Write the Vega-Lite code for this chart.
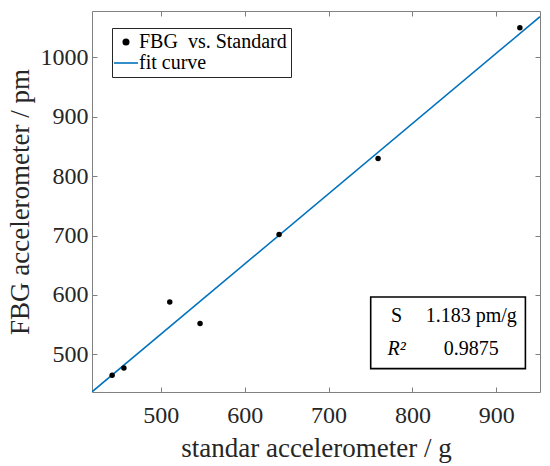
{
  "$schema": "https://vega.github.io/schema/vega-lite/v6.json",
  "width": 448,
  "height": 381,
  "autosize": {"type": "none"},
  "padding": {"left": 92, "top": 11, "right": 10, "bottom": 74},
  "background": "white",
  "config": {
    "font": "Liberation Serif",
    "view": {"stroke": null},
    "style": {
      "guide-label": {"font": "Liberation Serif"},
      "guide-title": {"font": "Liberation Serif"}
    },
    "legend": {"labelFont": "Liberation Serif"},
    "axis": {
      "domainColor": "#808080",
      "tickColor": "#808080",
      "tickSize": -5,
      "grid": false,
      "labelFont": "Liberation Serif",
      "labelFontSize": 24,
      "labelColor": "#262626",
      "titleFont": "Liberation Serif",
      "titleFontSize": 27,
      "titleFontWeight": "normal",
      "titleColor": "#262626"
    }
  },
  "datasets": {
    "measured": [
      {"standard": 442, "fbg": 464.6},
      {"standard": 456, "fbg": 476.9},
      {"standard": 510.7, "fbg": 588},
      {"standard": 546.8, "fbg": 551.7},
      {"standard": 641, "fbg": 701.7},
      {"standard": 759, "fbg": 829.8},
      {"standard": 928, "fbg": 1049.9}
    ],
    "fit": [
      {"standard": 418, "fbg": 436.7},
      {"standard": 952, "fbg": 1068.4}
    ],
    "stats": [
      {"name": "S", "value": "1.183 pm/g"},
      {"name": "R²", "value": "0.9875"}
    ]
  },
  "layer": [
    {
      "data": {"name": "fit"},
      "mark": {"type": "line", "clip": true, "strokeWidth": 1.6},
      "encoding": {
        "x": {
          "field": "standard", "type": "quantitative",
          "scale": {"domain": [418, 952], "nice": false, "zero": false},
          "axis": {"orient": "top", "values": [500, 600, 700, 800, 900], "labels": false, "title": null}
        },
        "y": {
          "field": "fbg", "type": "quantitative",
          "scale": {"domain": [436.5, 1078], "nice": false, "zero": false},
          "axis": {"orient": "right", "values": [500, 600, 700, 800, 900, 1000], "labels": false, "title": null}
        },
        "color": {
          "datum": "fit curve",
          "scale": {"domain": ["FBG\u00a0 vs. Standard", "fit curve"], "range": ["black", "#0072BD"]},
          "legend": {
            "title": null,
            "orient": "none",
            "legendX": 20,
            "legendY": 17,
            "strokeColor": "#262626",
            "fillColor": "white",
            "padding": 4,
            "symbolType": "stroke",
            "symbolSize": 576,
            "symbolStrokeWidth": 1.6,
            "labelFont": "Liberation Serif",
            "labelFontSize": 20,
            "labelColor": "black",
            "labelOffset": 3,
            "rowPadding": 1,
            "encode": {
              "labels": {"update": {"font": {"value": "Liberation Serif"}}},
              "symbols": {
                "update": {
                  "shape": {"signal": "datum.value === 'fit curve' ? 'stroke' : 'circle'"},
                  "size": {"signal": "datum.value === 'fit curve' ? 576 : 30"},
                  "fill": {"signal": "datum.value === 'fit curve' ? 'transparent' : 'black'"},
                  "stroke": {"signal": "datum.value === 'fit curve' ? '#0072BD' : 'black'"}
                }
              }
            }
          }
        }
      }
    },
    {
      "data": {"name": "measured"},
      "mark": {"type": "point", "filled": true, "size": 30, "opacity": 1},
      "encoding": {
        "x": {
          "field": "standard", "type": "quantitative",
          "axis": {"orient": "bottom", "values": [500, 600, 700, 800, 900], "format": "d", "title": "standar accelerometer / g", "labelPadding": 16, "titleY": 56, "titleBaseline": "middle"}
        },
        "y": {
          "field": "fbg", "type": "quantitative",
          "axis": {"orient": "left", "values": [500, 600, 700, 800, 900, 1000], "format": "d", "title": "FBG accelerometer / pm", "labelPadding": 9, "titleX": -72, "titleBaseline": "middle"}
        },
        "color": {"datum": "FBG\u00a0 vs. Standard"}
      }
    },
    {
      "data": {"values": [{}]},
      "mark": {"type": "rect", "fill": "white", "stroke": "black", "strokeWidth": 1.6},
      "encoding": {
        "x": {"datum": 750.2, "type": "quantitative", "axis": null},
        "x2": {"datum": 934.6},
        "y": {"datum": 596.5, "type": "quantitative", "axis": null},
        "y2": {"datum": 475.9}
      }
    },
    {
      "data": {"name": "stats"},
      "transform": [{"filter": "datum.name === 'S'"}],
      "layer": [
        {
          "mark": {"type": "text", "font": "Liberation Serif", "fontSize": 20, "color": "black", "baseline": "middle", "align": "center"},
          "encoding": {
            "x": {"datum": 781, "type": "quantitative", "axis": null},
            "y": {"datum": 564, "type": "quantitative", "axis": null},
            "text": {"field": "name"}
          }
        },
        {
          "mark": {"type": "text", "font": "Liberation Serif", "fontSize": 20, "color": "black", "baseline": "middle", "align": "center"},
          "encoding": {
            "x": {"datum": 870, "type": "quantitative", "axis": null},
            "y": {"datum": 564, "type": "quantitative", "axis": null},
            "text": {"field": "value"}
          }
        }
      ]
    },
    {
      "data": {"name": "stats"},
      "transform": [{"filter": "datum.name !== 'S'"}],
      "layer": [
        {
          "mark": {"type": "text", "font": "Liberation Serif", "fontSize": 20, "fontStyle": "italic", "color": "black", "baseline": "middle", "align": "center"},
          "encoding": {
            "x": {"datum": 781, "type": "quantitative", "axis": null},
            "y": {"datum": 508.4, "type": "quantitative", "axis": null},
            "text": {"field": "name"}
          }
        },
        {
          "mark": {"type": "text", "font": "Liberation Serif", "fontSize": 20, "color": "black", "baseline": "middle", "align": "center"},
          "encoding": {
            "x": {"datum": 870, "type": "quantitative", "axis": null},
            "y": {"datum": 508.4, "type": "quantitative", "axis": null},
            "text": {"field": "value"}
          }
        }
      ]
    }
  ],
  "resolve": {"axis": {"x": "independent", "y": "independent"}}
}
